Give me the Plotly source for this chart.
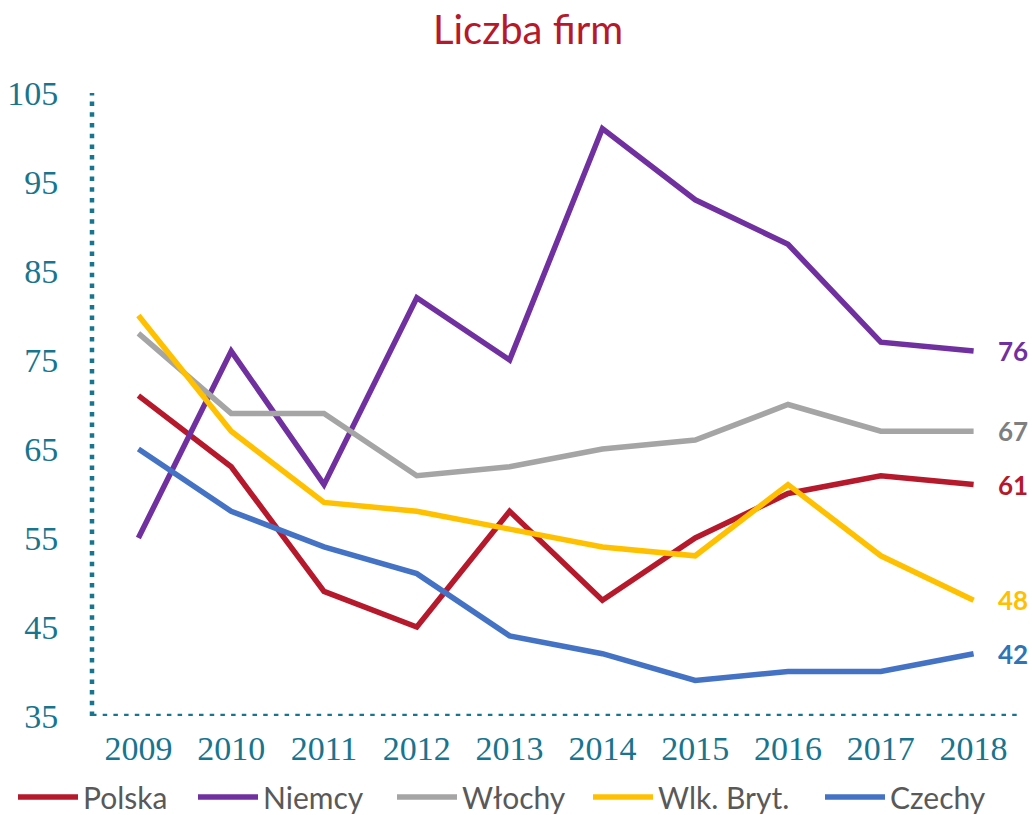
import plotly.graph_objects as go

# Number of firms per year, by country
years = ["2009", "2010", "2011", "2012", "2013", "2014", "2015", "2016", "2017", "2018"]
polska = [71, 63, 49, 45, 58, 48, 55, 60, 62, 61]
niemcy = [55, 76, 61, 82, 75, 101, 93, 88, 77, 76]
wlochy = [78, 69, 69, 62, 63, 65, 66, 70, 67, 67]
wlk_bryt = [80, 67, 59, 58, 56, 54, 53, 61, 53, 48]
czechy = [65, 58, 54, 51, 44, 42, 39, 40, 40, 42]

y_ticks = [35, 45, 55, 65, 75, 85, 95, 105]

# name, values, line colour, end-label colour, legend entry width
series = [
    ("Polska", polska, "#B5192B", "#B5192B", 105),
    ("Niemcy", niemcy, "#7030A0", "#7030A0", 124),
    ("Włochy", wlochy, "#A5A5A5", "#7F7F7F", 121),
    ("Wlk. Bryt.", wlk_bryt, "#FFC000", "#FFC000", 157),
    ("Czechy", czechy, "#4472C4", "#2E75B6", 106),
]

AXIS = "#17758F"
PLOT_L, PLOT_W, PLOT_B, PLOT_H = 92, 928, 99, 623

fig = go.Figure()
last = len(years) - 1
for name, vals, color, label_color, lw in series:
    fig.add_trace(go.Scatter(
        x=years, y=vals, name=name, mode="lines",
        line=dict(color=color, width=5.5),
        legendwidth=lw,
        hoverinfo="x+y+name",
    ))
    # value label next to the last point (category index of the last year)
    fig.add_annotation(
        x=last, y=vals[last], text=f"<b>{vals[last]}</b>",
        xref="x", yref="y", xanchor="left", yanchor="middle",
        xshift=22, showarrow=False,
        font=dict(family="Lato, sans-serif", size=26, color=label_color),
    )

# dotted axis lines
dots = dict(color=AXIS, width=4.5, dash="4.5px,6.2px")
fig.add_shape(type="line", xref="paper", yref="y", x0=0, x1=0, y0=35, y1=105,
              line=dots, layer="below")
fig.add_shape(type="line", xref="paper", yref="y", x0=0, x1=1, y0=35, y1=35,
              line=dots, layer="below")

fig.update_layout(
    width=1032, height=815,
    margin=dict(l=PLOT_L, r=12, t=93, b=PLOT_B, autoexpand=False),
    paper_bgcolor="white", plot_bgcolor="white",
    title=dict(text="Liczba firm", x=528 / 1032, xref="container", xanchor="center",
               y=1 - 30 / 815, yref="container", yanchor="middle",
               font=dict(family="Lato, sans-serif", size=40, color="#B5192B")),
    xaxis=dict(type="category", range=[-0.5, 9.5], showgrid=False, zeroline=False,
               showline=False, ticks="outside", ticklen=2, tickcolor="rgba(0,0,0,0)",
               tickfont=dict(family="Liberation Serif, serif", size=34, color=AXIS)),
    yaxis=dict(range=[35, 105], tickvals=y_ticks, showgrid=False, zeroline=False,
               showline=False, ticks="outside", ticklen=26, tickcolor="rgba(0,0,0,0)",
               tickfont=dict(family="Liberation Serif, serif", size=34, color=AXIS)),
    showlegend=True,
    legend=dict(orientation="h",
                x=(13 - PLOT_L) / PLOT_W, xref="paper", xanchor="left",
                y=-(797 - (815 - PLOT_B)) / PLOT_H, yref="paper", yanchor="middle",
                itemwidth=60, tracegroupgap=0, borderwidth=0,
                font=dict(family="Lato, sans-serif", size=30, color="#595959"),
                bgcolor="rgba(0,0,0,0)"),
)

fig.write_html("out.html")
